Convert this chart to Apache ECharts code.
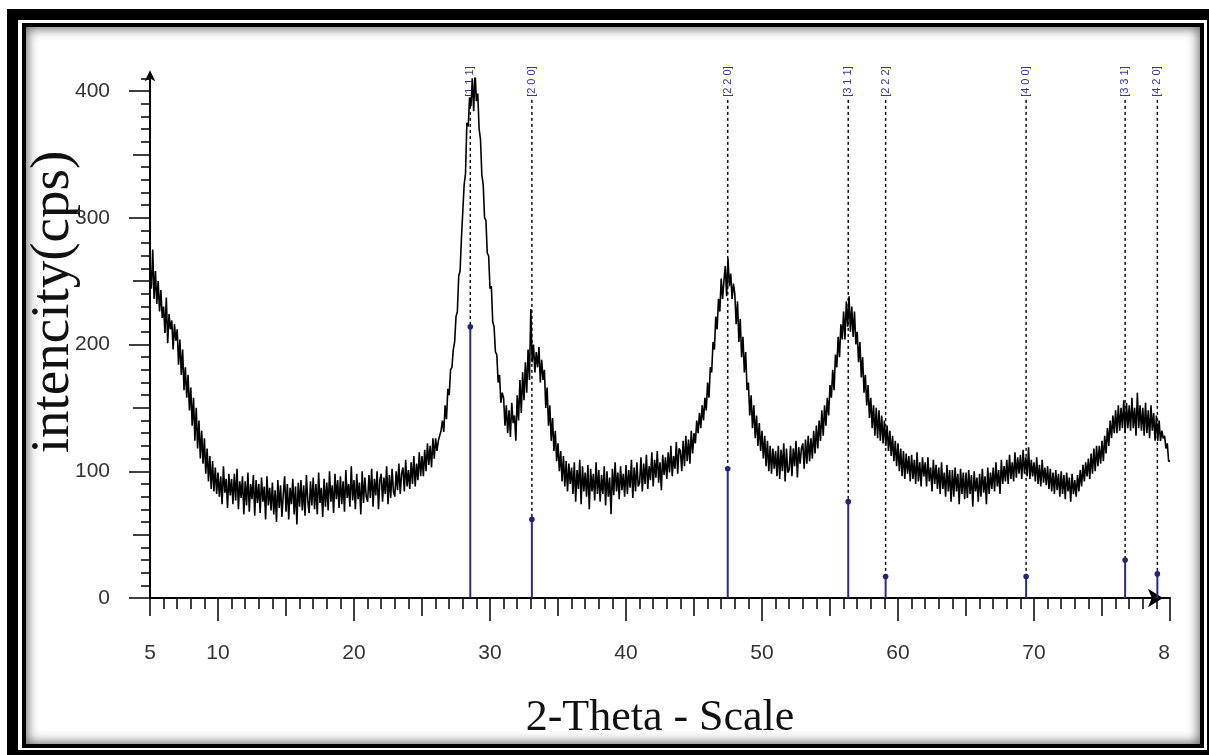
<!DOCTYPE html>
<html>
<head>
<meta charset="utf-8">
<script src="https://cdn.jsdelivr.net/npm/echarts@6/dist/echarts.min.js"></script>
<style>
  html, body { margin:0; padding:0; width:1209px; height:755px; overflow:hidden; background:#fff; }
  .outer { position:absolute; left:7px; top:9px; width:1211px; height:752px; background:#000; }
  .gap { position:absolute; left:18px; top:20px; width:1189px; height:730px; background:#fff; }
  .inner { position:absolute; left:22px; top:23px; width:1174px; height:717px; border:4px solid #000; background:#fff;
           box-shadow: inset 0 0 12px 1px rgba(0,0,0,0.65); }
  #chart { position:absolute; left:0; top:0; width:1209px; height:755px; }
</style>
</head>
<body>
<div class="outer"></div>
<div class="gap"></div>
<div class="inner"></div>
<div id="chart"></div>
<script>
// ---- data ----
const startTheta = 5;      // first 2-theta of the scan
const stepTheta = 0.1;     // scan step
const intensity = [
  262,244,275,236,258,232,250,226,243,221,
  230,209,237,201,224,212,219,196,216,203,
  212,184,204,176,196,164,182,158,176,148,
  166,136,158,124,150,118,140,110,132,106,
  126,98,118,92,112,86,108,84,103,82,
  99,80,96,74,104,83,94,71,98,81,
  94,74,98,77,102,70,92,79,96,66,
  92,73,99,68,90,78,97,65,93,75,
  90,67,95,76,88,62,96,73,87,69,
  91,66,85,60,93,71,89,64,82,96,
  68,90,62,87,74,94,66,88,58,91,
  72,93,69,89,65,97,77,67,92,73,
  95,70,90,66,99,75,87,64,94,72,
  91,69,100,76,89,67,98,78,93,71,
  96,74,92,68,101,79,90,72,104,77,
  93,70,98,78,91,66,100,75,95,80,
  76,97,79,102,72,94,81,100,70,93,
  98,76,95,82,104,74,97,79,102,84,
  80,100,85,106,82,98,103,84,109,88,
  101,86,107,90,112,88,106,93,115,96,
  112,96,117,100,122,105,120,103,126,110,
  126,116,124,128,132,140,131,152,141,165,
  160,180,182,196,202,222,226,254,258,284,
  285,326,335,375,372,395,388,410,384,415,
  392,398,370,362,334,326,300,298,272,270,
  244,246,218,214,194,192,170,176,154,162,
  158,136,152,130,148,127,154,138,144,124,
  160,140,172,146,178,156,186,162,196,172,
  228,186,200,178,194,182,198,170,188,172,
  180,150,166,136,152,124,142,116,132,108,
  122,100,116,92,112,88,108,84,106,90,
  103,82,107,76,101,86,109,74,104,84,
  99,80,105,70,102,84,98,77,107,82,
  101,76,97,82,104,73,100,80,95,66,
  102,81,107,84,99,78,104,85,98,80,
  105,82,101,87,109,79,103,84,107,88,
  91,111,84,106,90,113,86,104,93,115,
  88,109,95,116,91,107,85,113,97,111,
  94,115,99,120,96,112,102,123,98,118,
  116,100,124,104,128,108,125,106,132,114,
  130,122,140,130,146,134,152,140,158,148,
  170,158,182,178,202,196,222,212,236,226,
  252,236,250,262,238,268,246,256,236,248,
  240,216,234,202,220,190,206,178,194,164,
  170,144,160,134,152,126,144,120,138,116,
  132,110,128,104,124,100,120,98,118,102,
  116,96,120,94,117,100,122,92,118,99,
  101,120,96,118,104,124,95,119,106,118,
  122,102,125,106,128,108,126,110,132,114,
  136,118,140,124,148,128,152,136,158,144,
  168,158,180,164,192,182,206,190,216,204,
  226,204,234,214,238,210,230,206,226,200,
  210,186,202,174,190,162,176,152,168,142,
  158,134,152,128,150,126,148,124,144,122,
  140,120,136,116,132,112,128,108,124,104,
  122,100,118,96,116,94,114,98,112,92,
  113,94,109,90,115,92,107,88,111,96,
  107,88,111,92,103,84,109,90,105,86,
  103,82,107,86,99,80,105,84,101,76,
  101,80,103,84,98,74,102,82,99,78,
  99,79,101,82,97,72,100,84,95,76,
  98,80,102,83,96,74,103,82,99,86,
  103,84,107,88,101,82,109,90,104,92,
  109,90,113,94,107,92,115,95,111,98,
  113,94,117,98,111,96,119,94,109,96,
  107,92,111,90,105,88,109,91,103,89,
  104,86,102,84,99,82,101,85,98,80,
  100,82,97,78,99,84,95,76,98,82,
  93,80,97,84,101,88,105,92,107,96,
  110,94,114,98,118,100,120,104,120,106,
  124,108,128,114,134,120,140,126,144,130,
  148,130,152,132,150,134,156,130,154,134,
  152,132,158,134,150,128,162,134,152,132,
  150,128,154,130,148,126,152,132,146,124,
  144,124,140,124,132,126,128,118,122,108,
  108
];
const peakPos = [28.55, 33.08, 47.48, 56.34, 59.09, 69.42, 76.70, 79.07];
const peakHeight = [214, 62, 102, 76, 17, 17, 30, 19];
const peakLabels = ['[1 1 1]','[2 0 0]','[2 2 0]','[3 1 1]','[2 2 2]','[4 0 0]','[3 3 1]','[4 2 0]'];
const yTickLabels = [0, 100, 200, 300, 400];
const xTickLabels = [5, 10, 20, 30, 40, 50, 60, 70, 80];
const xTitle = '2-Theta - Scale';
const yTitle = 'intencity(cps)';

// ---- build ----
const curve = intensity.map((v, i) => [+(startTheta + i * stepTheta).toFixed(2), v]);
const peaks = peakPos.map((p, i) => [p, peakHeight[i], peakLabels[i]]);
const DASH_TOP = 393;

const chart = echarts.init(document.getElementById('chart'), null, { renderer: 'canvas' });
const labelFont = { color: '#333', fontFamily: 'Liberation Sans', fontSize: 21 };
const LEFT = 150, RIGHT = 39, BOTTOM = 157;
const pxPerUnit = (1209 - LEFT - RIGHT) / 75;

chart.setOption({
  animation: false,
  backgroundColor: 'transparent',
  grid: [
    { left: LEFT, right: RIGHT, top: 598 - 410 * 1.2675, bottom: BOTTOM },
    { left: LEFT, right: RIGHT, top: 598 - 400 * 1.2675, bottom: BOTTOM },
    { left: LEFT + 5 * pxPerUnit, right: RIGHT, top: 598 - 400 * 1.2675, bottom: BOTTOM }
  ],
  xAxis: [
    { type: 'value', gridIndex: 0, min: 5, max: 80, interval: 1,
      axisLine: { show: true, lineStyle: { color: '#000', width: 2 }, symbol: ['none', 'arrow'], symbolSize: [14, 15], symbolOffset: [0, -7] },
      axisTick: { show: true, length: 11, lineStyle: { color: '#000', width: 1.5 } },
      splitLine: { show: false },
      axisLabel: { ...labelFont, margin: 45, showMinLabel: true, showMaxLabel: true,
        formatter: v => xTickLabels.indexOf(v) >= 0 ? (v === 80 ? '{r|8}' : String(v)) : '',
        rich: { r: { ...labelFont, padding: [0, 12, 0, 0] } } } },
    { type: 'value', gridIndex: 1, min: 5, max: 80, interval: 5,
      axisLine: { show: false }, axisLabel: { show: false }, splitLine: { show: false },
      axisTick: { show: true, length: 18, lineStyle: { color: '#000', width: 1.5 } } },
    { type: 'value', gridIndex: 2, min: 10, max: 80, interval: 10,
      axisLine: { show: false }, axisLabel: { show: false }, splitLine: { show: false },
      axisTick: { show: true, length: 23, lineStyle: { color: '#000', width: 1.5 } } }
  ],
  yAxis: [
    { type: 'value', gridIndex: 0, min: 0, max: 410, interval: 10,
      axisLine: { show: true, lineStyle: { color: '#000', width: 2 }, symbol: ['none', 'arrow'], symbolSize: [8, 11], symbolOffset: [0, 8] },
      axisTick: { show: true, length: 9, lineStyle: { color: '#000', width: 1.5 } },
      splitLine: { show: false },
      axisLabel: { ...labelFont, margin: 40, formatter: v => yTickLabels.indexOf(v) >= 0 ? String(v) : '' } },
    { type: 'value', gridIndex: 1, min: 0, max: 400, interval: 50,
      axisLine: { show: false }, axisLabel: { show: false }, splitLine: { show: false },
      axisTick: { show: true, length: 17, lineStyle: { color: '#000', width: 1.5 } } },
    { type: 'value', gridIndex: 2, min: 0, max: 400, interval: 100, offset: 5 * pxPerUnit,
      axisLine: { show: false }, axisLabel: { show: false }, splitLine: { show: false },
      axisTick: { show: true, length: 21, lineStyle: { color: '#000', width: 1.5 } } }
  ],
  graphic: [
    { type: 'text', x: 660, y: 718, style: { text: xTitle, font: '44px "Liberation Serif"', fill: '#111', align: 'center', verticalAlign: 'middle' } },
    { type: 'text', x: 54, y: 302, rotation: Math.PI / 2, style: { text: yTitle, font: '55px "Liberation Serif"', fill: '#111', align: 'center', verticalAlign: 'middle' } }
  ],
  series: [
    { type: 'custom', xAxisIndex: 0, yAxisIndex: 0, clip: false, data: peaks,
      renderItem: function (params, api) {
        const x = api.value(0), h = api.value(1);
        const lbl = peaks[params.dataIndex][2];
        const base = api.coord([x, 0]), top = api.coord([x, h]), dtop = api.coord([x, DASH_TOP]);
        return { type: 'group', children: [
          { type: 'line', shape: { x1: top[0], y1: dtop[1], x2: top[0], y2: top[1] }, style: { stroke: '#111', lineWidth: 1.5, lineDash: [3, 3] } },
          { type: 'line', shape: { x1: base[0], y1: base[1], x2: top[0], y2: top[1] }, style: { stroke: '#2b2b8c', lineWidth: 2 } },
          { type: 'circle', shape: { cx: top[0], cy: top[1], r: 2.8 }, style: { fill: '#22227a' } },
          { type: 'text', x: top[0], y: dtop[1] - 3, rotation: Math.PI / 2,
            style: { text: lbl, font: '11px "Liberation Sans"', fill: '#3535a5', align: 'left', verticalAlign: 'middle' } }
        ] };
      } },
    { type: 'line', xAxisIndex: 0, yAxisIndex: 0, data: curve, showSymbol: false, symbol: 'none',
      lineStyle: { color: '#000', width: 1.6 }, z: 3 }
  ]
});
</script>
</body>
</html>
